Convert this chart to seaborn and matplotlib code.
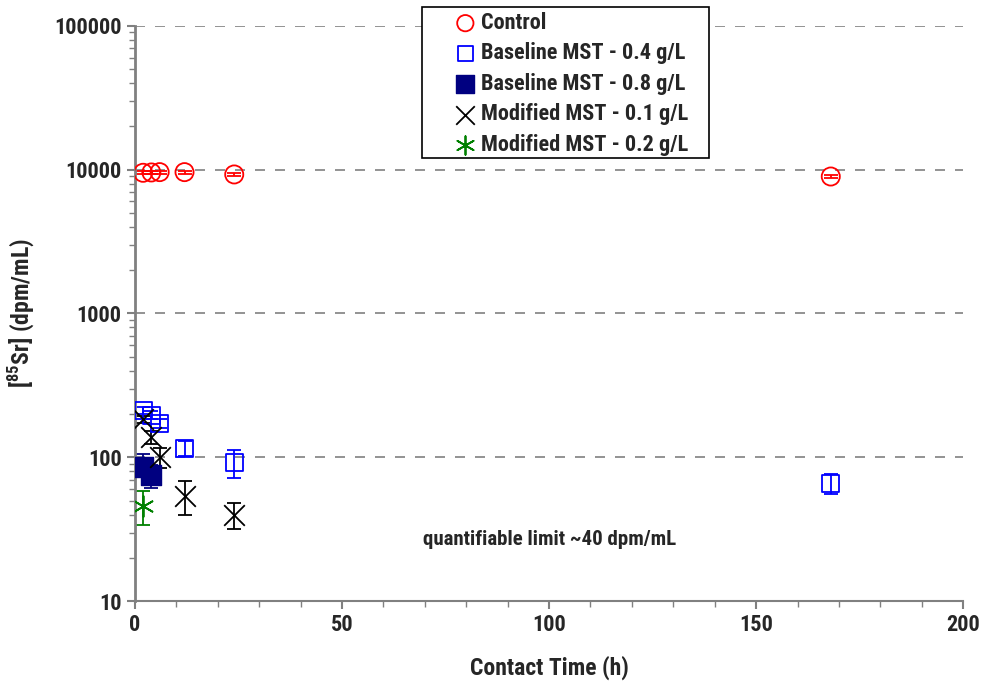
import matplotlib
matplotlib.use("Agg")
import matplotlib.pyplot as plt
import seaborn as sns
import numpy as np
import pandas as pd
from matplotlib.patches import Rectangle
from matplotlib.ticker import FixedLocator, LogLocator, NullFormatter, MultipleLocator

sns.set_style("white")
plt.rcParams['font.family'] = ['Roboto Condensed', 'Liberation Sans', 'DejaVu Sans']
plt.rcParams['mathtext.fontset'] = 'custom'
plt.rcParams['mathtext.rm'] = 'Roboto Condensed'
plt.rcParams['mathtext.bf'] = 'Roboto Condensed:bold'

# Data
ctrl_t = [2, 4, 6, 12, 24, 168]
ctrl_v = [9500, 9550, 9600, 9600, 9250, 8950]
ctrl_e = [250, 250, 250, 250, 250, 250]

b04_t = [2, 4, 6, 12, 24, 168]
b04_v = [212, 196, 172, 115, 92, 66]
b04_lo = [12, 12, 12, 13, 20, 10]
b04_hi = [12, 14, 12, 14, 20, 10]

b08_t = [2, 4]
b08_v = [86, 75]
b08_lo = [10, 14]
b08_hi = [20, 14]

m01_t = [2, 4, 6, 12, 24]
m01_v = [184, 138, 100, 54, 40]
m01_lo = [10, 14, 16, 14, 8]
m01_hi = [10, 14, 16, 14, 8]

m02_t = [2]
m02_v = [46]
m02_lo = [12]
m02_hi = [12]

W, H = 984, 695
fig = plt.figure(figsize=(W / 100, H / 100), dpi=100)
ax = fig.add_axes([0.137, 0.135, 0.842, 0.828])

series = [
    ("Control", ctrl_t, ctrl_v, ctrl_e, ctrl_e, dict(marker='o', s=170, facecolors='none', edgecolors='#ff0000', linewidths=1.3), '#ff0000'),
    ("Baseline MST - 0.4 g/L", b04_t, b04_v, b04_lo, b04_hi, dict(marker='s', s=150, facecolors='none', edgecolors='#0000ff', linewidths=1.3), '#0000ff'),
    ("Baseline MST - 0.8 g/L", b08_t, b08_v, b08_lo, b08_hi, dict(marker='s', s=190, color='#000080', edgecolors='#000080', linewidths=1), '#000080'),
    ("Modified MST - 0.1 g/L", m01_t, m01_v, m01_lo, m01_hi, dict(marker='x', s=220, color='#000000', linewidths=1.3), '#000000'),
    ("Modified MST - 0.2 g/L", m02_t, m02_v, m02_lo, m02_hi, dict(marker=(6, 2, 0), s=220, color='#008000', linewidths=1.3), '#008000'),
]

for name, t, v, lo, hi, kw, col in series:
    df = pd.DataFrame({"t": t, "v": v})
    ax.errorbar(t, v, yerr=[lo, hi], fmt='none', ecolor=col, elinewidth=1.3, capsize=5, capthick=1.3, zorder=2)
    sns.scatterplot(data=df, x="t", y="v", ax=ax, label=name, zorder=3, **kw)

ax.set_yscale('log')
ax.set_ylim(10, 100000)
ax.set_xlim(0, 200)
ax.xaxis.set_major_locator(MultipleLocator(50))
ax.xaxis.set_minor_locator(MultipleLocator(10))
ax.yaxis.set_major_locator(FixedLocator([10, 100, 1000, 10000, 100000]))
ax.yaxis.set_minor_locator(LogLocator(base=10, subs=np.arange(2, 10)))
ax.yaxis.set_minor_formatter(NullFormatter())
ax.set_yticklabels(['10', '100', '1000', '10000', '100000'])
ax.tick_params(axis='both', which='major', direction='out', length=6, width=1.5, color='#808080', labelsize=16, left=True, bottom=True)
ax.tick_params(axis='both', which='minor', direction='out', length=4, width=1, color='#808080', left=True, bottom=True)
for lab in ax.get_xticklabels() + ax.get_yticklabels():
    lab.set_fontweight('bold')

for y in [100, 1000, 10000, 100000]:
    ax.axhline(y, color='#808080', linestyle=(0, (6, 6)), linewidth=1.2, zorder=0)

for s in ['top', 'right']:
    ax.spines[s].set_visible(False)
ax.spines['left'].set_color('#808080')
ax.spines['left'].set_linewidth(2)
ax.spines['bottom'].set_color('#808080')
ax.spines['bottom'].set_linewidth(1.5)

ax.set_xlabel("Contact Time (h)", fontsize=17, fontweight='bold', labelpad=14)
ax.set_ylabel("[$^{\\mathbf{85}}$Sr] (dpm/mL)", fontsize=17, fontweight='bold', labelpad=12)

ax.text(100, 27, "quantifiable limit ~40 dpm/mL", ha='center', va='center', fontsize=15, fontweight='bold')

# legend frame (drawn as a box like the original)
box = Rectangle((422 / W, 1 - 158 / H), (709 - 422) / W, (158 - 7) / H, transform=fig.transFigure,
                facecolor='white', edgecolor='black', linewidth=1.2, zorder=9, clip_on=False)
ax.add_artist(box)

leg = ax.legend(loc='upper left', bbox_to_anchor=(452 / W, 1 - 12 / H), bbox_transform=fig.transFigure,
                frameon=False, prop={'weight': 'bold', 'size': 16},
                handletextpad=0.1, borderpad=0.0, borderaxespad=0.0, labelspacing=0.38,
                markerscale=0.9, handlelength=1.2)
leg.set_zorder(10)

fig.savefig("out.png", dpi=100)
